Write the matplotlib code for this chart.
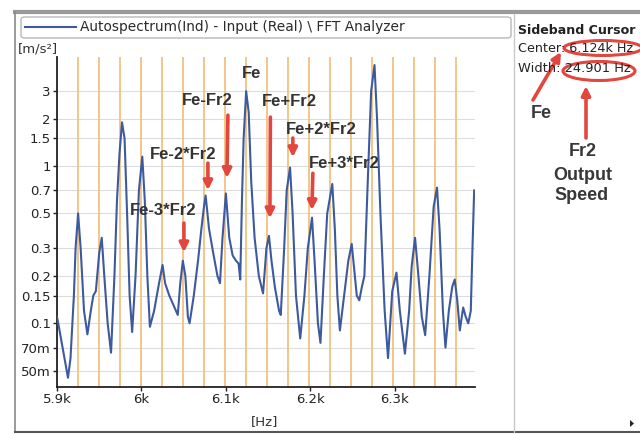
import matplotlib
matplotlib.use('Agg')
import matplotlib.pyplot as plt
from matplotlib.patches import Ellipse, FancyArrowPatch, FancyBboxPatch, Polygon
from matplotlib.lines import Line2D

# ---------------- data ----------------
freq_hz = [5900, 5903, 5913, 5916, 5920, 5922, 5925, 5928, 5932, 5936, 5940, 5943, 5946,
           5950, 5953, 5956, 5960, 5964, 5968, 5971, 5974, 5977, 5980, 5983, 5986, 5989,
           5993, 5997, 6001, 6004, 6007, 6010, 6015, 6020, 6025, 6028, 6033, 6038, 6043,
           6046, 6049, 6052, 6055, 6057, 6062, 6067, 6071, 6074, 6076, 6080, 6085, 6090,
           6093, 6096, 6100, 6104, 6108, 6112, 6115, 6117, 6119, 6121, 6124, 6127, 6130,
           6134, 6139, 6144, 6148, 6151, 6154, 6158, 6163, 6165, 6169, 6172, 6176, 6179,
           6183, 6188, 6193, 6197, 6202, 6205, 6209, 6212, 6216, 6220, 6226, 6229, 6232,
           6235, 6240, 6245, 6249, 6252, 6255, 6258, 6261, 6264, 6268, 6272, 6276, 6279,
           6283, 6288, 6292, 6297, 6302, 6306, 6312, 6317, 6320, 6324, 6328, 6332, 6336,
           6341, 6346, 6350, 6353, 6357, 6360, 6364, 6368, 6371, 6374, 6377, 6381, 6384,
           6387, 6390, 6392, 6394]
amp_ms2 = [0.11, 0.09, 0.045, 0.06, 0.15, 0.3, 0.5, 0.3, 0.12, 0.085, 0.12, 0.15, 0.16,
           0.28, 0.35, 0.2, 0.1, 0.065, 0.2, 0.6, 1.2, 1.9, 1.5, 0.5, 0.15, 0.088,
           0.2, 0.7, 1.15, 0.6, 0.2, 0.095, 0.12, 0.17, 0.235, 0.18, 0.15, 0.13, 0.113,
           0.18, 0.25, 0.2, 0.11, 0.1, 0.15, 0.25, 0.4, 0.55, 0.65, 0.4, 0.28, 0.2,
           0.18, 0.35, 0.67, 0.35, 0.27, 0.25, 0.24, 0.19, 0.6, 1.5, 3.0, 2.2, 0.8,
           0.35, 0.2, 0.155, 0.3, 0.36, 0.25, 0.17, 0.12, 0.113, 0.3, 0.7, 0.98, 0.5,
           0.15, 0.08, 0.15, 0.3, 0.47, 0.25, 0.1, 0.075, 0.2, 0.5, 0.77, 0.4, 0.15,
           0.09, 0.15, 0.25, 0.32, 0.22, 0.15, 0.14, 0.17, 0.2, 0.8, 3.0, 4.4, 2.0,
           0.5, 0.12, 0.06, 0.16, 0.21, 0.12, 0.064, 0.12, 0.23, 0.35, 0.2, 0.11, 0.084,
           0.2, 0.55, 0.73, 0.4, 0.12, 0.07, 0.12, 0.17, 0.19, 0.14, 0.09, 0.126, 0.11,
           0.1, 0.12, 0.3, 0.7]

center_hz = 6124.0
width_hz = 24.901
sideband_orders = list(range(-9, 11))

xtick_vals = [5900, 6000, 6100, 6200, 6300]
xtick_labels = ['5.9k', '6k', '6.1k', '6.2k', '6.3k']
ytick_vals = [3, 2, 1.5, 1, 0.7, 0.5, 0.3, 0.2, 0.15, 0.1, 0.07, 0.05]
ytick_labels = ['3', '2', '1.5', '1', '0.7', '0.5', '0.3', '0.2', '0.15', '0.1', '70m', '50m']

peak_labels = ['Fe', 'Fe-Fr2', 'Fe+Fr2', 'Fe-2*Fr2', 'Fe+2*Fr2', 'Fe+3*Fr2', 'Fe-3*Fr2']

# ---------------- layout ----------------
W, H = 640, 434
fig = plt.figure(figsize=(W / 100, H / 100), dpi=100)
fig.patch.set_facecolor('white')


def fx(x):
    return x / W


def fy(y):
    return 1 - y / H


ax = fig.add_axes([fx(57), fy(387), (475 - 57) / W, (387 - 57) / H])
ax.set_yscale('log')
ax.set_xlim(5900, 6395)
ax.set_ylim(0.0393, 4.95)

for v in ytick_vals:
    ax.axhline(v, color='#dcdcdc', lw=0.8, zorder=0)

for k in sideband_orders:
    ax.axvline(center_hz + k * width_hz, color='#f2c27e', lw=1.3, zorder=1)

ax.plot(freq_hz, amp_ms2, color='#3d5a9e', lw=1.5, zorder=3)

ax.set_xticks(xtick_vals)
ax.set_xticklabels(xtick_labels)
ax.set_yticks(ytick_vals)
ax.set_yticklabels(ytick_labels)
ax.yaxis.set_minor_locator(matplotlib.ticker.NullLocator())
ax.tick_params(axis='both', direction='out', length=3, width=1, labelsize=9.5,
               colors='#222222', pad=1.5)
for s in ['top', 'right']:
    ax.spines[s].set_visible(False)
for s in ['left', 'bottom']:
    ax.spines[s].set_color('#222222')
    ax.spines[s].set_linewidth(1.3)

red = '#e2473f'
txtc = '#333333'
lab_font = dict(family='Liberation Sans', weight='bold', size=12, color=txtc)

text_pos = {
    'Fe': (6130.8, 3.91),
    'Fe-Fr2': (6077.5, 2.63),
    'Fe+Fr2': (6175.7, 2.59),
    'Fe-2*Fr2': (6049.1, 1.19),
    'Fe+2*Fr2': (6212.4, 1.72),
    'Fe+3*Fr2': (6239.6, 1.045),
    'Fe-3*Fr2': (6025.4, 0.525),
}
arrow_pos = {
    'Fe-Fr2': ((6102.4, 2.11), (6101.2, 0.84)),
    'Fe+Fr2': ((6152.7, 2.05), (6152.1, 0.466)),
    'Fe-2*Fr2': ((6078.7, 1.045), (6078.7, 0.703)),
    'Fe+2*Fr2': ((6179.3, 1.51), (6179.3, 1.14)),
    'Fe+3*Fr2': ((6203.0, 0.90), (6201.8, 0.525)),
    'Fe-3*Fr2': ((6050.3, 0.434), (6050.3, 0.283)),
}
for lab in peak_labels:
    x, y = text_pos[lab]
    ax.text(x, y, lab, ha='center', va='center', zorder=6, **lab_font)
    if lab in arrow_pos:
        tail, tip = arrow_pos[lab]
        ax.annotate('', xy=tip, xytext=tail, annotation_clip=False, zorder=5,
                    arrowprops=dict(arrowstyle='-|>', color=red, lw=2.6,
                                    mutation_scale=13, shrinkA=0, shrinkB=0))

fig.text(fx(18), fy(49), '[m/s²]', ha='left', va='center', fontsize=9.5, color=txtc)
fig.text(fx(265), fy(422), '[Hz]', ha='center', va='center', fontsize=9.5, color=txtc)

# window frame
frame_c = '#8a8a8a'
fig.add_artist(Line2D([fx(15), fx(640)], [fy(12), fy(12)], color='#9a9a9a', lw=3))
fig.add_artist(Line2D([fx(15), fx(15)], [fy(12), fy(432)], color=frame_c, lw=1.2))
fig.add_artist(Line2D([fx(15), fx(640)], [fy(432), fy(432)], color='#555555', lw=1.5))
fig.add_artist(Line2D([fx(514), fx(514)], [fy(14), fy(432)], color='#c8c8c8', lw=1.0))

# legend box
fig.add_artist(FancyBboxPatch((fx(21), fy(38)), (511 - 21) / W, (38 - 17) / H,
                              boxstyle='round,pad=0,rounding_size=0.006',
                              transform=fig.transFigure, fc='white', ec='#b8b8b8', lw=1.0))
fig.add_artist(Line2D([fx(25), fx(76)], [fy(27), fy(27)], color='#3d5a9e', lw=1.5))
fig.text(fx(80), fy(27.5), 'Autospectrum(Ind) - Input (Real) \\ FFT Analyzer',
         ha='left', va='center', fontsize=9.9, color='#2a2a2a')

# right panel
fig.text(fx(518), fy(31), 'Sideband Cursor', ha='left', va='center', fontsize=9.1,
         weight='bold', color='#222222')
fig.text(fx(518), fy(49), f'Center: {center_hz / 1000:.3f}k Hz', ha='left', va='center',
         fontsize=9.2, color='#222222')
fig.text(fx(518), fy(69), f'Width: {width_hz:.3f} Hz', ha='left', va='center',
         fontsize=9.4, color='#222222')

fig.add_artist(Ellipse((fx(603), fy(48)), 78 / W, 15 / H, transform=fig.transFigure,
                       fc='none', ec=red, lw=2.2))
fig.add_artist(Ellipse((fx(599), fy(71)), 72 / W, 19 / H, transform=fig.transFigure,
                       fc='none', ec=red, lw=2.2))
fig.add_artist(FancyArrowPatch((fx(533), fy(100)), (fx(561), fy(52)),
                               transform=fig.transFigure, arrowstyle='-|>',
                               mutation_scale=13, lw=2.6, color=red,
                               shrinkA=0, shrinkB=0))
fig.add_artist(FancyArrowPatch((fx(586), fy(138)), (fx(586), fy(86)),
                               transform=fig.transFigure, arrowstyle='-|>',
                               mutation_scale=13, lw=2.6, color=red,
                               shrinkA=0, shrinkB=0))
side_font = dict(family='Liberation Sans', weight='bold', size=13, color='#383838',
                 ha='center', va='center')
fig.text(fx(541), fy(114), 'Fe', **side_font)
fig.text(fx(583), fy(152), 'Fr2', **side_font)
fig.text(fx(583), fy(175), 'Output', **side_font)
fig.text(fx(582), fy(195), 'Speed', **side_font)

fig.add_artist(Polygon([[fx(630), fy(420)], [fx(630), fy(427)], [fx(634), fy(423.5)]],
                       closed=True, transform=fig.transFigure, fc='#222222', ec='none'))

fig.savefig('out.png', dpi=100)
